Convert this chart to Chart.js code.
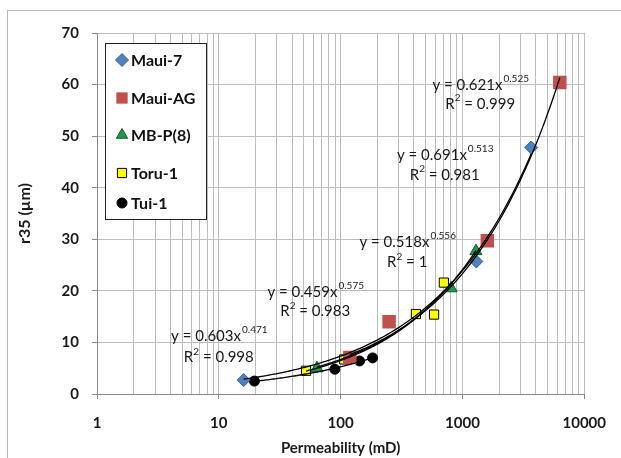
<!DOCTYPE html>
<html>
<head>
<meta charset="utf-8">
<script src="https://cdn.jsdelivr.net/npm/chart.js@4/dist/chart.umd.min.js"></script>
<style>
  html, body { margin: 0; padding: 0; background: #fff; }
  #wrap { width: 621px; height: 458px; position: relative; }
</style>
</head>
<body>
<div id="wrap"><canvas id="c" width="621" height="458"></canvas></div>
<script>
// Sample groups: permeability (mD) and r35 pore throat radius (µm)
const seriesNames = ['Maui-7', 'Maui-AG', 'MB-P(8)', 'Toru-1', 'Tui-1'];

const maui7Perm = [16, 1300, 3670];
const maui7R35 = [2.7, 25.7, 47.8];

const mauiAgPerm = [119, 250, 1600, 6300];
const mauiAgR35 = [7.1, 14.0, 29.7, 60.4];

const mbpPerm = [64, 807, 1290];
const mbpR35 = [5.0, 20.5, 27.7];

const toruPerm = [52, 107, 415, 585, 704];
const toruR35 = [4.5, 6.7, 15.5, 15.4, 21.6];

const tuiPerm = [19.6, 89.6, 143, 183];
const tuiR35 = [2.5, 4.8, 6.4, 7.0];

// Power-law fits y = a * x^b for each group, same order as seriesNames
const fitCoef = [0.691, 0.621, 0.518, 0.459, 0.603];
const fitExp = [0.513, 0.525, 0.556, 0.575, 0.471];
const fitR2 = ['0.981', '0.999', '1', '0.983', '0.998'];

// Axis ticks
const xTickLabels = [1, 10, 100, 1000, 10000];
const yTickLabels = [0, 10, 20, 30, 40, 50, 60, 70];

const permSets = [maui7Perm, mauiAgPerm, mbpPerm, toruPerm, tuiPerm];
const r35Sets = [maui7R35, mauiAgR35, mbpR35, toruR35, tuiR35];

// Marker styling per group
const markerStyles = [
  { pointStyle: 'rectRot', radius: 6.5, fill: '#4f81bd', stroke: '#3a5f8f', width: 1 },
  { pointStyle: 'rect', radius: 9.5, fill: '#c0504d', stroke: '#c0504d', width: 0 },
  { pointStyle: 'triangle', radius: 7, fill: '#1f9a4b', stroke: '#0d5a28', width: 1 },
  { pointStyle: 'rect', radius: 6.5, fill: '#ffff00', stroke: '#000000', width: 1 },
  { pointStyle: 'circle', radius: 5, fill: '#000000', stroke: '#000000', width: 1 }
];

// Where each fit's equation is written, in data units: [x centre, y of equation, y of R²]
const equationAnchors = [
  [715, 46.3, 42.5],
  [1400, 59.9, 56.2],
  [352, 29.5, 25.5],
  [61.9, 19.8, 16.0],
  [10.0, 11.2, 7.1]
];

function toPoints(xs, ys) {
  return xs.map((x, i) => ({ x: x, y: ys[i] }));
}

// Trend curve over the permeability range of a group
function fitCurve(i) {
  const xs = permSets[i];
  const lo = Math.log10(Math.min(...xs));
  const hi = Math.log10(Math.max(...xs));
  const pts = [];
  const n = 80;
  for (let k = 0; k <= n; k++) {
    const x = Math.pow(10, lo + (hi - lo) * k / n);
    pts.push({ x: x, y: fitCoef[i] * Math.pow(x, fitExp[i]) });
  }
  return pts;
}

const datasets = [];
seriesNames.forEach((name, i) => {
  const m = markerStyles[i];
  datasets.push({
    label: name,
    data: toPoints(permSets[i], r35Sets[i]),
    pointStyle: m.pointStyle,
    pointRadius: m.radius,
    pointHoverRadius: m.radius,
    backgroundColor: m.fill,
    borderColor: m.stroke,
    borderWidth: m.width,
    showLine: false,
    order: 1
  });
});
seriesNames.forEach((name, i) => {
  datasets.push({
    label: name + ' fit',
    data: fitCurve(i),
    showLine: true,
    pointRadius: 0,
    borderColor: '#000000',
    borderWidth: 1.3,
    fill: false,
    tension: 0,
    order: 0
  });
});

function drawMarker(ctx, m, x, y) {
  const r = m.radius;
  ctx.save();
  ctx.fillStyle = m.fill;
  ctx.strokeStyle = m.stroke;
  ctx.lineWidth = m.width;
  ctx.beginPath();
  if (m.pointStyle === 'rectRot') {
    ctx.moveTo(x, y - r); ctx.lineTo(x + r, y); ctx.lineTo(x, y + r); ctx.lineTo(x - r, y);
    ctx.closePath();
  } else if (m.pointStyle === 'rect') {
    const s = Math.SQRT1_2 * r;
    ctx.rect(x - s, y - s, 2 * s, 2 * s);
  } else if (m.pointStyle === 'triangle') {
    const a = Math.PI / 2;
    ctx.moveTo(x + Math.sin(0) * r, y - Math.cos(0) * r);
    ctx.lineTo(x + Math.sin(2 * Math.PI / 3) * r, y - Math.cos(2 * Math.PI / 3) * r);
    ctx.lineTo(x + Math.sin(4 * Math.PI / 3) * r, y - Math.cos(4 * Math.PI / 3) * r);
    ctx.closePath();
  } else {
    ctx.arc(x, y, r, 0, Math.PI * 2);
  }
  ctx.fill();
  if (m.width > 0) ctx.stroke();
  ctx.restore();
}

const FONT = 'Lato, "Open Sans", "DejaVu Sans", sans-serif';

// Outer frame around the whole figure
const framePlugin = {
  id: 'frame',
  beforeDraw(chart) {
    const ctx = chart.ctx;
    ctx.save();
    ctx.fillStyle = '#ffffff';
    ctx.fillRect(0, 0, chart.width, chart.height);
    ctx.strokeStyle = '#b8b8b8';
    ctx.lineWidth = 1;
    ctx.strokeRect(7.5, 10.5, 700, 600);
    ctx.restore();
  }
};

// Fit equations and R² values
const equationPlugin = {
  id: 'equations',
  afterDatasetsDraw(chart) {
    const ctx = chart.ctx;
    const xs = chart.scales.x, ys = chart.scales.y;
    const big = '15px ' + FONT, small = '10px ' + FONT;
    ctx.save();
    ctx.fillStyle = '#1a1a1a';
    ctx.textBaseline = 'middle';
    ctx.textAlign = 'left';
    equationAnchors.forEach((a, i) => {
      const cx = xs.getPixelForValue(a[0]);
      const y1 = ys.getPixelForValue(a[1]);
      const y2 = ys.getPixelForValue(a[2]);
      // y = a x^b
      const main = 'y = ' + fitCoef[i].toFixed(3) + 'x';
      const sup = fitExp[i].toFixed(3);
      ctx.font = big; const w1 = ctx.measureText(main).width;
      ctx.font = small; const w2 = ctx.measureText(sup).width;
      let x0 = cx - (w1 + w2) / 2;
      ctx.font = big; ctx.fillText(main, x0, y1);
      ctx.font = small; ctx.fillText(sup, x0 + w1 + 1, y1 - 6);
      // R² = value
      const r = 'R', two = '2', rest = ' = ' + fitR2[i];
      ctx.font = big; const wr = ctx.measureText(r).width; const wrest = ctx.measureText(rest).width;
      ctx.font = small; const wt = ctx.measureText(two).width;
      x0 = cx - (wr + wt + wrest) / 2;
      ctx.font = big; ctx.fillText(r, x0, y2);
      ctx.font = small; ctx.fillText(two, x0 + wr, y2 - 6);
      ctx.font = big; ctx.fillText(rest, x0 + wr + wt, y2);
    });
    ctx.restore();
  }
};

// Boxed legend inside the plot area
const legendPlugin = {
  id: 'boxLegend',
  afterDraw(chart) {
    const ctx = chart.ctx;
    const box = { x: 105.5, y: 43.5, w: 101, h: 176 };
    const rows = [60, 98, 135, 173, 203];
    ctx.save();
    ctx.fillStyle = '#ffffff';
    ctx.fillRect(box.x, box.y, box.w, box.h);
    ctx.strokeStyle = '#222222';
    ctx.lineWidth = 1;
    ctx.strokeRect(box.x, box.y, box.w, box.h);
    ctx.font = 'bold 16px ' + FONT;
    ctx.fillStyle = '#111111';
    ctx.textBaseline = 'middle';
    ctx.textAlign = 'left';
    seriesNames.forEach((name, i) => {
      const m = Object.assign({}, markerStyles[i]);
      m.radius = Math.min(m.radius, i === 1 ? 8 : 6.5);
      drawMarker(ctx, m, 122, rows[i]);
      ctx.fillText(name, 131, rows[i] + 1);
    });
    ctx.restore();
  }
};

new Chart(document.getElementById('c'), {
  type: 'scatter',
  data: { datasets: datasets },
  options: {
    responsive: false,
    animation: false,
    devicePixelRatio: 1,
    layout: { padding: { top: 33, right: 31, left: 0, bottom: 0 } },
    plugins: {
      legend: { display: false },
      tooltip: { enabled: false }
    },
    scales: {
      x: {
        type: 'logarithmic',
        min: 1,
        max: 10000,
        afterBuildTicks(scale) {
          const t = [];
          for (let e = 0; e < 4; e++) {
            for (let m = 1; m < 10; m++) t.push({ value: m * Math.pow(10, e), major: m === 1 });
          }
          t.push({ value: 10000, major: true });
          scale.ticks = t;
        },
        afterFit(scale) { scale.height = 64; },
        ticks: {
          autoSkip: false,
          maxRotation: 0,
          padding: 15,
          color: '#1a1a1a',
          font: { family: FONT, size: 15, weight: 'bold' },
          callback(value) { return xTickLabels.includes(value) ? String(value) : ''; }
        },
        grid: {
          color: '#bdbdbd',
          lineWidth: 1,
          tickLength: 5,
          tickColor(ctx) { return ctx.tick && xTickLabels.includes(ctx.tick.value) ? '#888888' : 'rgba(0,0,0,0)'; }
        },
        border: { color: '#888888', width: 1 },
        title: {
          display: true,
          text: 'Permeability (mD)',
          color: '#1a1a1a',
          font: { family: FONT, size: 15, weight: 'bold' },
          padding: { top: 0, bottom: 1 }
        }
      },
      y: {
        min: 0,
        max: 70,
        afterBuildTicks(scale) { scale.ticks = yTickLabels.map(v => ({ value: v })); },
        afterFit(scale) { scale.width = 97; },
        ticks: {
          stepSize: 10,
          padding: 13,
          color: '#1a1a1a',
          font: { family: FONT, size: 15, weight: 'bold' }
        },
        grid: { color: '#bdbdbd', lineWidth: 1, tickLength: 5, tickColor: '#888888' },
        border: { color: '#888888', width: 1 },
        title: {
          display: true,
          text: 'r35 (µm)',
          color: '#1a1a1a',
          font: { family: FONT, size: 16, weight: 'bold' },
          padding: { top: 15, bottom: 0 }
        }
      }
    }
  },
  plugins: [framePlugin, equationPlugin, legendPlugin]
});
</script>
</body>
</html>
